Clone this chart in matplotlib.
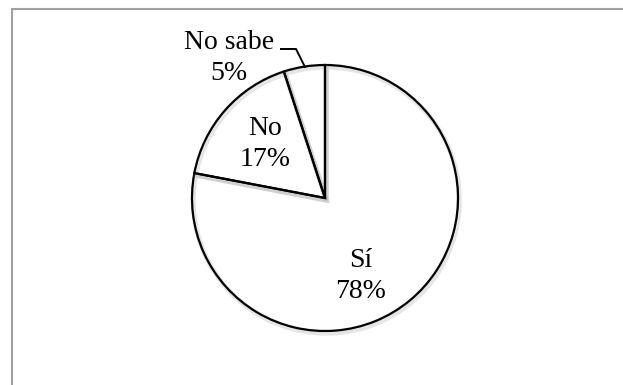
import matplotlib
matplotlib.use("Agg")
import matplotlib.pyplot as plt
import matplotlib.patches as mpatches
import matplotlib.patheffects as pe

# Survey answers, drawn clockwise from 12 o'clock
labels = ["Sí", "No", "No sabe"]
values = [78, 17, 5]

# where each label block sits (pixel coordinates, y from the top)
label_pos = [(361, 276), (265, 144), (229, 58)]

W, H = 623, 385
CX, CY, R = 325, 198, 133

fig = plt.figure(figsize=(W / 100, H / 100), dpi=100)
fig.patch.set_facecolor("white")
ax = fig.add_axes([0, 0, 1, 1])
ax.set_xlim(0, W)
ax.set_ylim(0, H)
ax.set_aspect("equal")
ax.axis("off")

# white fill first, then the outlines on top with a soft drop shadow
pie_kw = dict(startangle=90, counterclock=False, center=(CX, H - CY), radius=R)
ax.pie(values, colors=["white"] * len(values),
       wedgeprops=dict(edgecolor="none"), **pie_kw)
wedges, _ = ax.pie(values, wedgeprops=dict(facecolor="none", edgecolor="black",
                                           linewidth=1.6), **pie_kw)
for w in wedges:
    w.set_path_effects([
        pe.SimpleLineShadow(offset=(1.0, -1.6), shadow_color="gray",
                            alpha=0.2, linewidth=3.5),
        pe.Normal(),
    ])
ax.set_xlim(0, W)
ax.set_ylim(0, H)

font = dict(family="Liberation Serif", fontsize=20, ha="center",
            va="center", linespacing=1.36, color="black")
for lab, v, (x, y) in zip(labels, values, label_pos):
    ax.text(x, H - y, f"{lab}\n{v}%", **font)

# leader line for the small slice
ax.plot([281, 296, 305], [H - 49, H - 49, H - 67], color="black", lw=1.4)

# chart area frame (runs off the right and bottom edges)
frame = mpatches.Rectangle((11.5 / W, -0.1), 1.2, (H - 8.5) / H + 0.1,
                           transform=fig.transFigure, fill=False,
                           edgecolor="#a0a0a0", linewidth=1.5)
fig.patches.append(frame)

fig.savefig("out.png", dpi=100, facecolor="white")
